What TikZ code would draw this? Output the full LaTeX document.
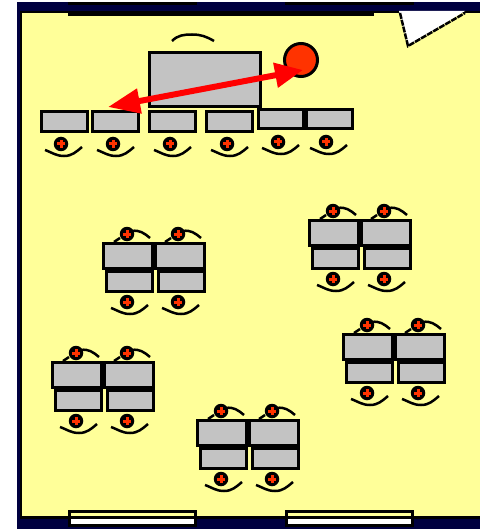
\documentclass[tikz,border=0pt]{standalone}
\usetikzlibrary{arrows.meta}

\definecolor{wallblue}{HTML}{000040}
\definecolor{floorcream}{HTML}{FFFF99}
\definecolor{deskgray}{HTML}{C3C3C3}
\definecolor{pupilred}{HTML}{FF3300}

\tikzset{
    bigdesk/.style={draw, line width=3pt, fill=deskgray, inner sep=0pt, minimum width=49pt, minimum height=25pt},
    smalldesk/.style={draw, line width=3pt, fill=deskgray, inner sep=0pt, minimum width=46pt, minimum height=20pt},
    student/.style={circle, fill=black, inner sep=0pt, minimum size=14.5pt, path picture={
        \fill[pupilred] ([shift={(-4pt,-1.5pt)}]path picture bounding box.center) rectangle ++(8pt,3pt);
        \fill[pupilred] ([shift={(-1.5pt,-4pt)}]path picture bounding box.center) rectangle ++(3pt,8pt);}},
    arm/.style={line width=2.5pt},
    windowpane/.style={draw, line width=3pt, fill=white, inner sep=0pt, minimum width=126pt, minimum height=14pt, path picture={
        \fill[floorcream] (path picture bounding box.north west) rectangle ([yshift=7pt]path picture bounding box.south east);
        \fill[black] ([yshift=10pt]path picture bounding box.south west) rectangle ([yshift=7pt]path picture bounding box.south east);}},
}

% arms of a student, curved under or over the head
\newcommand{\armsbelow}[1]{
    \draw[arm] ([shift={(-16pt,-6pt)}]#1.center) to[out=-20,in=180] ([shift={(3pt,-12pt)}]#1.center) to[out=0,in=-140] ([shift={(21pt,-3pt)}]#1.center);
}
\newcommand{\armsabove}[1]{
    \draw[arm] ([shift={(-13pt,-8pt)}]#1.center) -- ([shift={(-7pt,-4pt)}]#1.center);
    \draw[arm] ([shift={(5pt,3pt)}]#1.center) to[out=10,in=140] ([shift={(23pt,-4pt)}]#1.center);
}
% two big desks, two small desks and their four students
\newcommand{\deskgroup}[3]{
    \node[bigdesk] (#1big1) at (#2,#3) {};
    \node[bigdesk, right of=#1big1, node distance=51.5pt] (#1big2) {};
    \node[smalldesk, below of=#1big1, node distance=25.5pt, xshift=1.5pt] (#1small1) {};
    \node[smalldesk, below of=#1big2, node distance=25.5pt, xshift=1.5pt] (#1small2) {};
    \node[student, above of=#1big1, node distance=22pt, xshift=-1pt] (#1top1) {};
    \node[student, above of=#1big2, node distance=22pt, xshift=-1.5pt] (#1top2) {};
    \node[student, below of=#1small1, node distance=20.5pt, xshift=-2.5pt] (#1low1) {};
    \node[student, below of=#1small2, node distance=20.5pt, xshift=-3pt] (#1low2) {};
    \armsabove{#1top1}
    \armsabove{#1top2}
    \armsbelow{#1low1}
    \armsbelow{#1low2}
}

\begin{document}
\begin{tikzpicture}[x=1pt, y=-1pt, node distance=50pt]
    \useasboundingbox (0,0) rectangle (480,529);
    % room
    \fill[wallblue] (17,2) rectangle (480,529);
    \fill[black] (20,11) rectangle (480,519);
    \fill[floorcream] (22,13) rectangle (480,516);
    \fill[black] (68,2) rectangle (197,5);
    \fill[black] (285,2) rectangle (414,5);
    \fill[black] (68,13) rectangle (374,16);

    % door
    \fill[white] (399,11) -- (465,11) -- (408,46) -- cycle;
    \draw[line width=2.5pt, dash pattern=on 6pt off 1pt] (400,13) -- (408,46) -- (465,13);

    % windows
    \node[windowpane] (window1) at (132.5,518.5) {};
    \node[windowpane] (window2) at (349.5,518.5) {};

    % teacher
    \node[draw, line width=3pt, fill=deskgray, inner sep=0pt, minimum width=111pt, minimum height=54pt] (teacherdesk) at (205,79.5) {};
    \node[circle, draw, line width=3pt, fill=pupilred, inner sep=0pt, minimum size=33pt] (teacher) at (301,60) {};
    \draw[arm] (172,41) to[out=45,in=180] (192,34.5) to[out=0,in=150] (214,41);

    % front row
    \node[smalldesk] (desk1) at (64,121.5) {};
    \node[smalldesk] (desk2) at (115,121.5) {};
    \node[smalldesk] (desk3) at (172.5,121.5) {};
    \node[smalldesk] (desk4) at (229.5,121.5) {};
    \node[smalldesk, minimum width=45.5pt, minimum height=19pt] (desk5) at (281,119) {};
    \node[smalldesk, minimum width=45.5pt, minimum height=19pt] (desk6) at (329.5,119) {};
    \node[student] (pupil1) at (61,144) {};
    \node[student] (pupil2) at (113,144) {};
    \node[student] (pupil3) at (170,144) {};
    \node[student] (pupil4) at (227,144) {};
    \node[student] (pupil5) at (278,142) {};
    \node[student] (pupil6) at (326,142) {};
    \armsbelow{pupil1}
    \armsbelow{pupil2}
    \armsbelow{pupil3}
    \armsbelow{pupil4}
    \armsbelow{pupil5}
    \armsbelow{pupil6}

    % tables
    \deskgroup{a}{128}{256}
    \deskgroup{b}{334}{233}
    \deskgroup{c}{368}{347}
    \deskgroup{d}{77}{375}
    \deskgroup{e}{222}{433}

    % arrow
    \coordinate (tipdesk) at ([xshift=-7pt,yshift=3pt]desk2.north);
    \coordinate (tipteacher) at ([xshift=2pt,yshift=-10pt]teacher.center);
    \draw[{Triangle[length=32pt,width=24pt]}-{Triangle[length=28pt,width=24pt]}, line width=6pt, red] (tipdesk) -- (tipteacher);
\end{tikzpicture}
\end{document}
